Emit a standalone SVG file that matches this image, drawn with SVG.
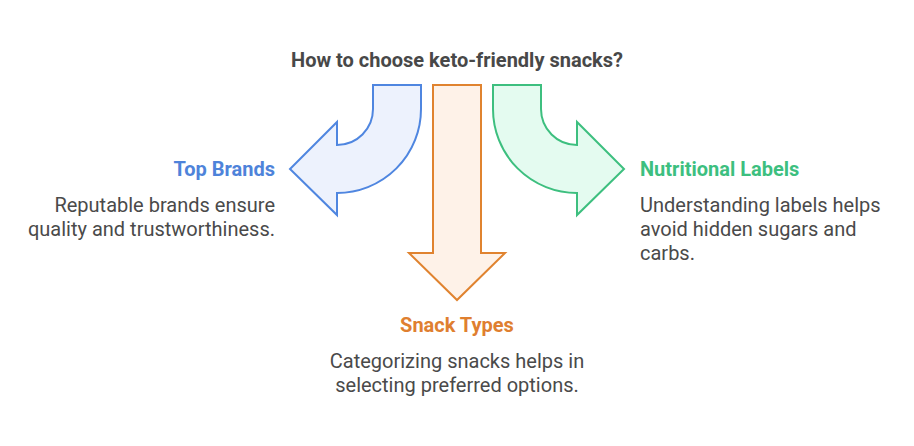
<svg xmlns="http://www.w3.org/2000/svg" width="914" height="446" viewBox="0 0 914 446">
<style>
.t{font-family:Roboto,"Liberation Sans",sans-serif;}
.title{font-size:20px;font-weight:bold;fill:#484848;text-anchor:middle;}
.h{font-size:20px;font-weight:bold;}
.b{font-size:20px;fill:#4a4a4a;}
.ar{stroke-width:2;stroke-linejoin:miter;}
</style>
<rect width="914" height="446" fill="#ffffff"/>
<text class="t title" x="457" y="67">How to choose keto-friendly snacks?</text>
<g id="arrows">
<g id="arrow-blue">
<path class="ar" fill="#edf2fd" stroke="#4f86e0" d="M373,85 L421,85 L421,109 A84,84 0 0 1 337,193 L337,215 L290,169 L337,122 L337,145 A36,36 0 0 0 373,109 Z"/>
</g>
<g id="arrow-orange">
<path class="ar" fill="#fef2e8" stroke="#e0832f" d="M433,85 L481,85 L481,253 L505,253 L457,300 L409,253 L433,253 Z"/>
</g>
<g id="arrow-green">
<path class="ar" fill="#e4fbf0" stroke="#3dbf7f" d="M541,85 L493,85 L493,109 A84,84 0 0 0 577,193 L577,215 L624,169 L577,122 L577,145 A36,36 0 0 1 541,109 Z"/>
</g>
</g>
<g id="node-top-brands">
<text class="t h" x="275" y="176" fill="#4e83da" text-anchor="end">Top Brands</text>
<text class="t b" text-anchor="end"><tspan x="275" y="212">Reputable brands ensure</tspan><tspan x="275" y="236">quality and trustworthiness.</tspan></text>
</g>
<g id="node-nutritional-labels">
<text class="t h" x="640" y="176" fill="#3dbf7f">Nutritional Labels</text>
<text class="t b"><tspan x="640" y="212">Understanding labels helps</tspan><tspan x="640" y="236">avoid hidden sugars and</tspan><tspan x="640" y="260">carbs.</tspan></text>
</g>
<g id="node-snack-types">
<text class="t h" x="457" y="332" fill="#df7f30" text-anchor="middle">Snack Types</text>
<text class="t b" text-anchor="middle"><tspan x="457" y="368">Categorizing snacks helps in</tspan><tspan x="457" y="392">selecting preferred options.</tspan></text>
</g>
</svg>
